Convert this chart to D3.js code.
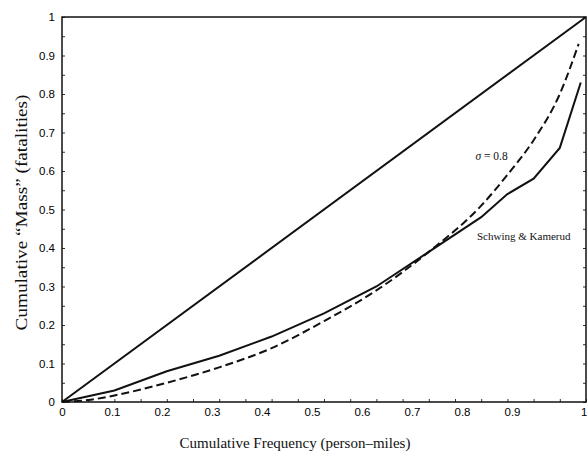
<!DOCTYPE html>
<html>
<head>
<meta charset="utf-8">
<script src="https://cdn.jsdelivr.net/npm/d3@7"></script>
<style>
  body { margin: 0; background: #fff; }
  svg { display: block; font-family: "Liberation Serif", "Times New Roman", serif; }
  .tick text { font-size: 11.5px; fill: #000; }
</style>
</head>
<body>
<div id="chart"></div>
<script>
// data
var xTicks = [0, 0.1, 0.2, 0.3, 0.4, 0.5, 0.6, 0.7, 0.8, 0.9];
var yTicks = [0, 0.1, 0.2, 0.3, 0.4, 0.5, 0.6, 0.7, 0.8, 0.9, 1];

var equalityX = [0, 1];
var equalityY = [0, 1];

var schwingX = [0, 0.1, 0.2, 0.3, 0.4, 0.5, 0.6, 0.7, 0.8, 0.85, 0.9, 0.95, 0.99];
var schwingY = [0, 0.03, 0.08, 0.12, 0.17, 0.23, 0.30, 0.39, 0.48, 0.54, 0.58, 0.66, 0.83];

var sigmaX = [0, 0.05, 0.1, 0.2, 0.3, 0.4, 0.5, 0.6, 0.7, 0.8, 0.85, 0.9, 0.95, 0.986];
var sigmaY = [0, 0.005, 0.017, 0.05, 0.09, 0.14, 0.21, 0.29, 0.39, 0.51, 0.59, 0.68, 0.80, 0.93];

// set the dimensions and margins of the graph
var margin = {top: 17, right: 1, bottom: 51, left: 62},
    width = 587 - margin.left - margin.right,
    height = 453 - margin.top - margin.bottom;

var x = d3.scaleLinear().domain([0, 1]).range([0, width]);
var y = d3.scaleLinear().domain([0, 1]).range([height, 0]);
// the printed x labels sit on a slightly tighter spacing than the data
var xLab = d3.scaleLinear().domain([0, 1]).range([0, 500]);

var svg = d3.select("#chart").append("svg")
    .attr("width", width + margin.left + margin.right)
    .attr("height", height + margin.top + margin.bottom)
    .append("g")
    .attr("transform", "translate(" + margin.left + "," + margin.top + ")");

var fmt = function (d) { return String(+d.toFixed(1)); };

// minor ticks on the frame
var minor = d3.range(0, 1.0001, 0.05);
svg.append("g").call(d3.axisLeft(y).tickValues(minor).tickSize(-3).tickFormat(""))
    .call(g => g.select(".domain").remove())
    .selectAll("line").attr("stroke", "#333");
svg.append("g").attr("transform", "translate(" + width + ",0)")
    .call(d3.axisRight(y).tickValues(minor).tickSize(-3).tickFormat(""))
    .call(g => g.select(".domain").remove())
    .selectAll("line").attr("stroke", "#333");
svg.append("g").attr("transform", "translate(0," + height + ")")
    .call(d3.axisBottom(x).tickValues(minor).tickSize(-3).tickFormat(""))
    .call(g => g.select(".domain").remove())
    .selectAll("line").attr("stroke", "#333");

// y labels
svg.append("g")
    .call(d3.axisLeft(y).tickValues(yTicks).tickSize(0).tickPadding(7).tickFormat(fmt))
    .call(g => g.select(".domain").remove());

// x labels
svg.append("g")
    .attr("transform", "translate(0," + height + ")")
    .call(d3.axisBottom(xLab).tickValues(xTicks).tickSize(0).tickPadding(6).tickFormat(fmt))
    .call(g => g.select(".domain").remove());
svg.append("g")
    .attr("transform", "translate(0," + height + ")")
    .call(d3.axisBottom(x).tickValues([1]).tickSize(0).tickPadding(6).tickFormat(fmt))
    .call(g => g.select(".domain").remove())
    .selectAll("text").attr("text-anchor", "end").attr("dx", "1");

// frame
svg.append("rect")
    .attr("width", width).attr("height", height)
    .attr("fill", "none").attr("stroke", "#111").attr("stroke-width", 1.5);

var line = d3.line().x(d => x(d[0])).y(d => y(d[1]));

svg.append("path")
    .datum(d3.zip(equalityX, equalityY))
    .attr("d", line)
    .attr("fill", "none").attr("stroke", "#111").attr("stroke-width", 2);

svg.append("path")
    .datum(d3.zip(schwingX, schwingY))
    .attr("d", line)
    .attr("fill", "none").attr("stroke", "#111").attr("stroke-width", 2);

svg.append("path")
    .datum(d3.zip(sigmaX, sigmaY))
    .attr("d", d3.line().curve(d3.curveMonotoneX).x(d => x(d[0])).y(d => y(d[1])))
    .attr("fill", "none").attr("stroke", "#111").attr("stroke-width", 2)
    .attr("stroke-dasharray", "8,4");

// curve labels
var sig = svg.append("text")
    .attr("x", x(0.789)).attr("y", y(0.64) + 4)
    .attr("font-size", "11.5px").attr("fill", "#111");
sig.append("tspan").attr("font-style", "italic").text("σ");
sig.append("tspan").text(" = 0.8");

svg.append("text")
    .attr("x", x(0.792)).attr("y", y(0.432) + 4)
    .attr("font-size", "11px").attr("fill", "#111")
    .text("Schwing & Kamerud");

// axis titles
svg.append("text")
    .attr("x", 233).attr("y", height + 46)
    .attr("text-anchor", "middle")
    .attr("font-size", "15px").attr("fill", "#111")
    .text("Cumulative Frequency (person\u2013miles)");

svg.append("text")
    .attr("transform", "translate(-35," + (height / 2 + 3) + ") rotate(-90)")
    .attr("text-anchor", "middle")
    .attr("font-size", "17px").attr("fill", "#111")
    .attr("textLength", 236).attr("lengthAdjust", "spacingAndGlyphs")
    .text("Cumulative \u201cMass\u201d (fatalities)");
</script>
</body>
</html>
